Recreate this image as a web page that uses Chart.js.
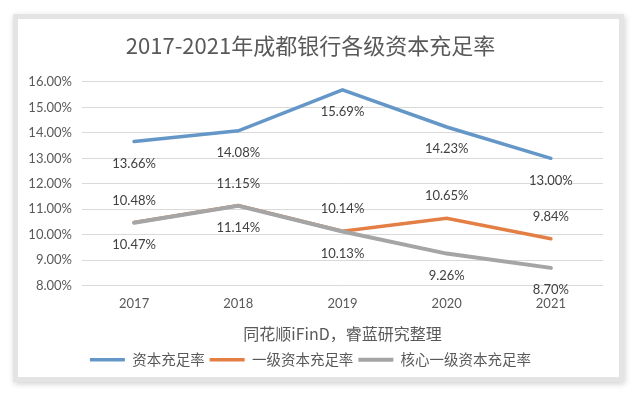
<!DOCTYPE html>
<html>
<head>
<meta charset="utf-8">
<script src="https://cdn.jsdelivr.net/npm/chart.js"></script>
<style>
  html, body { margin: 0; padding: 0; background: #ffffff; }
  #card {
    position: absolute; left: 13px; top: 14px;
    width: 601px; height: 358px;
    border: 5px solid #e4e4e4;
    box-shadow: 1px 2px 6px rgba(0,0,0,0.18);
    background: #ffffff;
  }
  #wrap { position: relative; width: 601px; height: 358px; }
</style>
</head>
<body>
<div id="card"><div id="wrap"><canvas id="myChart"></canvas></div></div>
<script>
// data
const years = ['2017', '2018', '2019', '2020', '2021'];
const capitalRatio = [13.66, 14.08, 15.69, 14.23, 13.00];
const tier1Ratio = [10.48, 11.15, 10.14, 10.65, 9.84];
const coreTier1Ratio = [10.47, 11.14, 10.13, 9.26, 8.70];
const seriesNames = ['资本充足率', '一级资本充足率', '核心一级资本充足率'];
const yTicks = [8, 9, 10, 11, 12, 13, 14, 15, 16];

const numFont = 'Lato, "Open Sans", sans-serif';
const cjkFont = '"Noto Sans CJK SC", sans-serif';

// labels above (-1) or below (+1) each line, like the Excel chart
const labelSide = [1, -1, 1];

const valueLabels = {
    id: 'valueLabels',
    afterDatasetsDraw(chart) {
        const ctx = chart.ctx;
        ctx.save();
        ctx.font = '13px ' + numFont;
        ctx.fillStyle = '#404040';
        ctx.textAlign = 'center';
        ctx.textBaseline = 'middle';
        chart.data.datasets.forEach((ds, i) => {
            const meta = chart.getDatasetMeta(i);
            meta.data.forEach((pt, j) => {
                ctx.fillText(ds.data[j].toFixed(2) + '%', pt.x, pt.y + labelSide[i] * 22);
            });
        });
        ctx.restore();
    }
};

const ctx = document.getElementById('myChart').getContext('2d');
const myChart = new Chart(ctx, {
    type: 'line',
    data: {
        labels: years,
        datasets: [{
            label: seriesNames[0],
            data: capitalRatio,
            borderColor: '#6497c7',
            backgroundColor: '#6497c7',
            borderWidth: 3.5,
            order: 3
        }, {
            label: seriesNames[1],
            data: tier1Ratio,
            borderColor: '#e37f45',
            backgroundColor: '#e37f45',
            borderWidth: 3.5,
            order: 2
        }, {
            label: seriesNames[2],
            data: coreTier1Ratio,
            borderColor: '#a5a5a5',
            backgroundColor: '#a5a5a5',
            borderWidth: 4,
            order: 1
        }]
    },
    options: {
        responsive: true,
        maintainAspectRatio: false,
        animation: false,
        elements: {
            point: { radius: 0, hoverRadius: 0 },
            line: { tension: 0, borderCapStyle: 'round' }
        },
        layout: { padding: { left: 0, right: 16, top: 0, bottom: 0 } },
        plugins: {
            title: {
                display: true,
                text: '2017-2021年成都银行各级资本充足率',
                color: '#595959',
                font: { family: cjkFont, size: 22, weight: 'normal' },
                padding: { top: 13, bottom: 23.5 }
            },
            legend: {
                position: 'bottom',
                labels: {
                    sort: (a, b) => a.datasetIndex - b.datasetIndex,
                    usePointStyle: true,
                    pointStyle: 'line',
                    pointStyleWidth: 35,
                    color: '#595959',
                    font: { family: cjkFont, size: 14.5 },
                    padding: 5
                }
            },
            tooltip: { enabled: false }
        },
        scales: {
            x: {
                grid: { display: false, drawTicks: false },
                border: { display: false },
                offset: true,
                ticks: {
                    color: '#595959',
                    font: { family: numFont, size: 13 },
                    padding: 10
                },
                title: {
                    display: true,
                    text: '同花顺iFinD，睿蓝研究整理',
                    color: '#595959',
                    font: { family: cjkFont, size: 16 },
                    padding: { top: 3, bottom: 4 }
                }
            },
            y: {
                min: 8,
                max: 16,
                afterFit(scale) { scale.width = 64; },
                afterBuildTicks(scale) { scale.ticks = yTicks.map(v => ({ value: v })); },
                grid: { color: '#d9d9d9', lineWidth: 1, drawTicks: false },
                border: { display: false },
                ticks: {
                    color: '#595959',
                    font: { family: numFont, size: 13 },
                    padding: 10,
                    callback: (v) => v.toFixed(2) + '%'
                }
            }
        }
    },
    plugins: [valueLabels]
});
</script>
</body>
</html>
